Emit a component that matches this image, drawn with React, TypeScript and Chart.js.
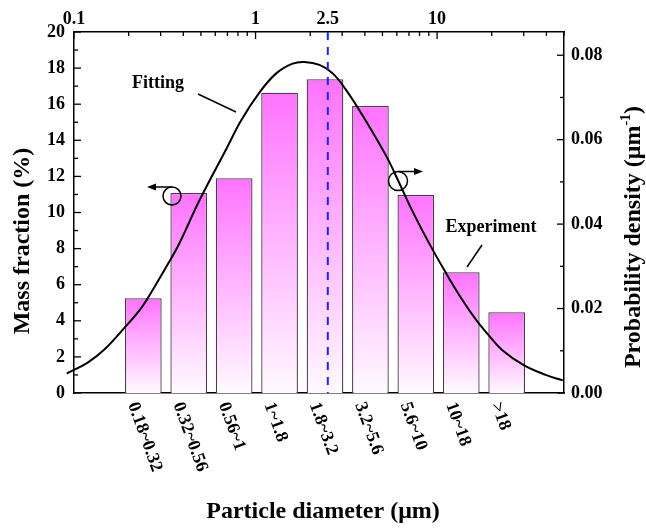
import React, { useEffect, useRef } from "react";
import { Chart, registerables } from "chart.js";

Chart.register(...registerables);

// ---- data ----
const categories = ["0.18~0.32", "0.32~0.56", "0.56~1", "1~1.8", "1.8~3.2", "3.2~5.6", "5.6~10", "10~18", ">18"];
const massFraction = [5.25, 11.08, 11.9, 16.64, 17.38, 15.9, 10.97, 6.69, 4.47];

const fitDiameter = [0.0912, 0.119, 0.148, 0.191, 0.236, 0.279, 0.337, 0.382, 0.492, 0.69, 0.834, 1.052, 1.3, 1.6, 1.86, 2.25, 2.66, 3.15, 3.89, 5.25, 6.18, 7.29, 9.03, 11.2, 13.7, 16.4, 18.8, 22.8, 30.0, 39.6, 49.2];
const fitDensity = [0.00462, 0.0072, 0.0104, 0.0156, 0.0203, 0.0253, 0.0313, 0.0356, 0.0457, 0.0578, 0.0646, 0.0712, 0.0757, 0.078, 0.0784, 0.0777, 0.0757, 0.0718, 0.0657, 0.0561, 0.0498, 0.0432, 0.0355, 0.0284, 0.0222, 0.0173, 0.0142, 0.0102, 0.0066, 0.0043, 0.0030];

const topMajorTicks = [0.1, 1, 10];
const topMinorTicks = [0.2, 0.3, 0.4, 0.5, 0.6, 0.7, 0.8, 0.9, 2, 3, 4, 5, 6, 7, 8, 9, 20, 30, 40, 50];
const topLabelTicks = [0.1, 1, 2.5, 10];
const rightLabelTicks = [0, 0.02, 0.04, 0.06, 0.08];
const markerDiameter = 2.5;

const FONT = '"Liberation Serif", "Times New Roman", serif';

const decorPlugin = {
  id: "decor",
  afterDatasetsDraw(chart: any) {
    const { ctx, chartArea: a, scales } = chart;
    const st = scales.xTop;
    ctx.save();
    const xm = st.getPixelForValue(markerDiameter);
    ctx.strokeStyle = "#1f1fff";
    ctx.lineWidth = 2;
    ctx.setLineDash([8, 7]);
    ctx.beginPath();
    ctx.moveTo(xm, a.top);
    ctx.lineTo(xm, a.bottom);
    ctx.stroke();
    ctx.setLineDash([]);
    ctx.restore();
  },
  afterDraw(chart: any) {
    const { ctx, chartArea: a, scales } = chart;
    const sx = scales.x, sy = scales.y, sr = scales.yR, st = scales.xTop;
    const line = (x1: number, y1: number, x2: number, y2: number) => {
      ctx.beginPath();
      ctx.moveTo(x1, y1);
      ctx.lineTo(x2, y2);
      ctx.stroke();
    };
    ctx.save();
    ctx.strokeStyle = "#000";
    ctx.fillStyle = "#000";
    ctx.lineWidth = 1.3;
    for (let v = 0; v <= 20; v += 1) {
      const y = sy.getPixelForValue(v);
      line(a.left, y, a.left + (v % 2 === 0 ? 7 : 4), y);
    }
    for (let k = 0; k <= 8; k++) {
      const y = sr.getPixelForValue(k * 0.01);
      line(a.right, y, a.right - (k % 2 === 0 ? 7 : 4), y);
    }
    topMajorTicks.forEach((v) => {
      const x = st.getPixelForValue(v);
      line(x, a.top, x, a.top + 7);
    });
    topMinorTicks.forEach((v) => {
      const x = st.getPixelForValue(v);
      line(x, a.top, x, a.top + 4);
    });

    // rotated category labels
    ctx.font = `bold 18px ${FONT}`;
    ctx.textAlign = "left";
    ctx.textBaseline = "middle";
    categories.forEach((c, i) => {
      const x = sx.getPixelForValue(i);
      ctx.save();
      ctx.translate(x - 11, a.bottom + 10);
      ctx.rotate((70 * Math.PI) / 180);
      ctx.fillText(c, 0, 0);
      ctx.restore();
    });

    // axis titles
    ctx.font = `bold 24px ${FONT}`;
    ctx.textAlign = "center";
    ctx.textBaseline = "alphabetic";
    ctx.fillText("Particle diameter (\u03bcm)", 323, 518);

    ctx.save();
    ctx.translate(29, 241);
    ctx.rotate(-Math.PI / 2);
    ctx.fillText("Mass fraction (%)", 0, 0);
    ctx.restore();

    ctx.save();
    ctx.translate(640, 237);
    ctx.rotate(-Math.PI / 2);
    const p1 = "Probability density (\u03bcm";
    const sup = "-1";
    const p2 = ")";
    ctx.font = `bold 24px ${FONT}`;
    const w1 = ctx.measureText(p1).width;
    const w3 = ctx.measureText(p2).width;
    ctx.font = `bold 14px ${FONT}`;
    const w2 = ctx.measureText(sup).width;
    const total = w1 + w2 + w3;
    let cx = -total / 2;
    ctx.textAlign = "left";
    ctx.font = `bold 24px ${FONT}`;
    ctx.fillText(p1, cx, 0);
    cx += w1;
    ctx.font = `bold 14px ${FONT}`;
    ctx.fillText(sup, cx, -10);
    cx += w2;
    ctx.font = `bold 24px ${FONT}`;
    ctx.fillText(p2, cx, 0);
    ctx.restore();

    // annotations
    ctx.font = `bold 18px ${FONT}`;
    ctx.textAlign = "center";
    ctx.textBaseline = "middle";
    ctx.fillText("Fitting", 158, 83);
    ctx.fillText("Experiment", 491, 227);
    ctx.lineWidth = 1.5;
    line(198, 94, 236, 112);
    line(482, 245, 467, 267);

    const circleArrow = (cx0: number, cy0: number, r: number, tipX: number) => {
      ctx.beginPath();
      ctx.arc(cx0, cy0, r, 0, Math.PI * 2);
      ctx.stroke();
      const ay = cy0 - r;
      const dir = tipX < cx0 ? -1 : 1;
      line(cx0, ay, tipX - dir * 6, ay);
      ctx.beginPath();
      ctx.moveTo(tipX, ay);
      ctx.lineTo(tipX - dir * 9, ay - 3.5);
      ctx.lineTo(tipX - dir * 9, ay + 3.5);
      ctx.closePath();
      ctx.fill();
    };
    circleArrow(172, 196, 9, 147);
    circleArrow(398, 181, 9.5, 423);
    ctx.restore();
  },
};

export default function App() {
  const ref = useRef<HTMLCanvasElement | null>(null);
  useEffect(() => {
    if (!ref.current) return;
    const tickFont = { family: FONT, size: 18, weight: "bold" as const };
    const chart = new Chart(ref.current, {
      type: "bar",
      data: {
        datasets: [
          {
            type: "line",
            label: "Fitting",
            data: fitDiameter.map((d, i) => ({ x: d, y: fitDensity[i] })),
            xAxisID: "xTop",
            yAxisID: "yR",
            borderColor: "#000",
            borderWidth: 2,
            pointRadius: 0,
            tension: 0.4,
            fill: false,
            clip: false,
            order: 0,
          } as any,
          {
            type: "bar",
            label: "Experiment",
            data: massFraction.map((v, i) => ({ x: i, y: v })),
            xAxisID: "x",
            yAxisID: "y",
            grouped: false,
            borderColor: "#4a3a4a",
            borderWidth: 1.3,
            barPercentage: 0.808,
            categoryPercentage: 1,
            order: 1,
            backgroundColor: (c: any) => {
              const chart = c.chart;
              if (!chart.chartArea || c.type !== "data") return "#ff80ff";
              const ys = chart.scales.y;
              const top = ys.getPixelForValue(c.parsed.y);
              const bottom = ys.getPixelForValue(0);
              const g = chart.ctx.createLinearGradient(0, top, 0, bottom);
              g.addColorStop(0, "rgb(255,115,255)");
              g.addColorStop(1, "rgb(255,250,255)");
              return g;
            },
          } as any,
        ],
      },
      options: {
        responsive: false,
        animation: false,
        devicePixelRatio: 1,
        layout: { padding: 0 },
        plugins: { legend: { display: false }, tooltip: { enabled: false } },
        scales: {
          x: {
            type: "linear",
            position: "bottom",
            offset: false,
            min: -1.526,
            max: 9.262,
            grid: { display: false, drawTicks: false },
            border: { display: true, color: "#000", width: 1.5 },
            ticks: { display: false },
            afterBuildTicks: (s: any) => {
              s.ticks = categories.map((_, i) => ({ value: i }));
            },
            afterFit: (s: any) => {
              s.height = 136;
            },
          },
          xTop: {
            type: "logarithmic",
            position: "top",
            offset: false,
            min: 0.1,
            max: 50,
            grid: { display: false, drawTicks: false },
            border: { display: true, color: "#000", width: 1.5 },
            ticks: {
              font: tickFont,
              color: "#000",
              padding: 2,
              autoSkip: false,
              maxRotation: 0,
              callback: (v: any) => String(v),
            },
            afterBuildTicks: (s: any) => {
              s.ticks = topLabelTicks.map((v) => ({ value: v }));
            },
            afterFit: (s: any) => {
              s.height = 32;
            },
          },
          y: {
            type: "linear",
            position: "left",
            min: 0,
            max: 20,
            grid: { display: false, drawTicks: false },
            border: { display: true, color: "#000", width: 1.5 },
            ticks: { stepSize: 2, font: tickFont, color: "#000", padding: 9 },
            afterFit: (s: any) => {
              s.width = 74;
            },
          },
          yR: {
            type: "linear",
            position: "right",
            min: 0,
            max: 0.0855,
            grid: { display: false, drawTicks: false },
            border: { display: true, color: "#000", width: 1.5 },
            ticks: {
              font: tickFont,
              color: "#000",
              padding: 7,
              callback: (v: any) => Number(v).toFixed(2),
            },
            afterBuildTicks: (s: any) => {
              s.ticks = rightLabelTicks.map((v) => ({ value: v }));
            },
            afterFit: (s: any) => {
              s.width = 82;
            },
          },
        },
      } as any,
      plugins: [decorPlugin],
    });
    return () => chart.destroy();
  }, []);
  return (
    <div style={{ position: "absolute", left: 0, top: 0, width: 646, height: 529, background: "#fff" }}>
      <canvas ref={ref} width={646} height={529} style={{ display: "block", width: 646, height: 529 }} />
    </div>
  );
}
